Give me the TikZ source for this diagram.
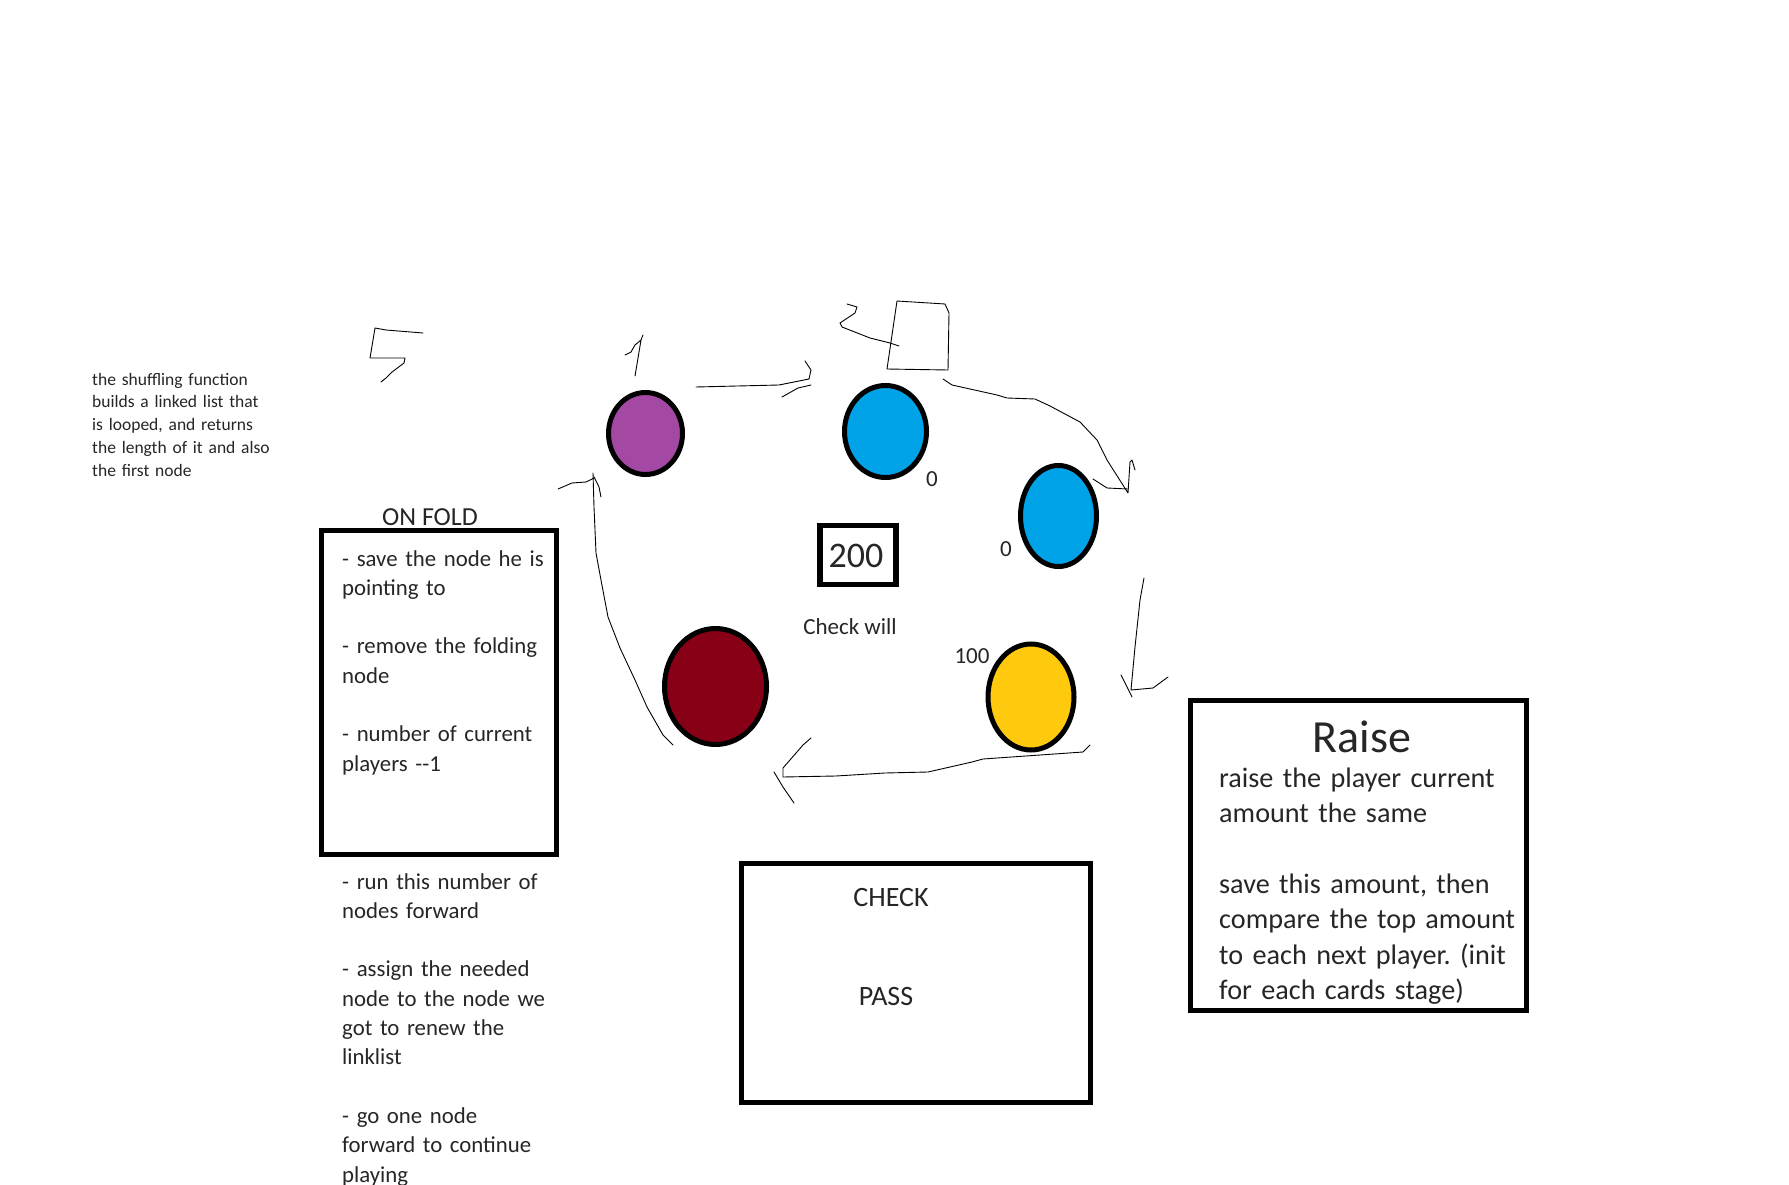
\documentclass[tikz,border=0pt]{standalone}
\usepackage{fontspec}
\setmainfont{Carlito}
\frenchspacing
\usetikzlibrary{shapes.geometric}
\definecolor{purp}{HTML}{A349A4}
\definecolor{turq}{HTML}{00A2E8}
\definecolor{amber}{HTML}{FFC90E}
\definecolor{wine}{HTML}{880015}
\definecolor{ink}{HTML}{262626}
\tikzset{
	player/.style={ellipse,draw=black,line width=5,inner sep=0},
	boxline/.style={draw=black,line width=5,inner sep=0},
	note/.style={inner sep=0,text=ink,align=left,text width=#1,anchor=base west},
	lbl/.style={inner sep=0,text=ink,anchor=base},
	pen/.style={line width=0.9,line join=round,line cap=round}
}
\begin{document}
\begin{tikzpicture}[x=1pt,y=-1pt]
	\useasboundingbox[fill=white](0,0) rectangle (1789,1185);
	% players of the looped list
	\foreach \name/\x/\y/\w/\h/\col in {p1/645.5/433.5/74/82/purp,p2/885.5/431.5/82/92/turq,p3/1058.5/516/76/101/turq,p4/1031/697/86/106/amber,p5/715.5/686.5/102/116/wine} {
		\node[player,fill=\col,minimum width=\w,minimum height=\h] (\name) at (\x,\y) {};
	}
	\foreach \name/\x/\y/\t in {b2/932/486/0,b3/1006/556/0,b4/972/663/100} {
		\node[lbl,font=\fontsize{23}{27}\selectfont] (\name) at (\x,\y) {\t};
	}
	\node[boxline,minimum width=76,minimum height=59,line width=5.5] (pot) at (858,555) {};
	\node[lbl,font=\fontsize{36}{42}\selectfont] (potval) at (856,567) {200};
	\node[lbl,font=\fontsize{23}{28}\selectfont] (chk) at (850,634) {Check will};
	% text on the left
	\node[note=300,font=\fontsize{17.5}{22.9}\selectfont] (shuffle) at (92,385) {the shuffling function\\builds a linked list that\\is looped, and returns\\the length of it and also\\the first node};
	\node[lbl,font=\fontsize{26}{31}\selectfont] (foldtitle) at (430,525) {ON FOLD};
	\node[boxline,minimum width=235,minimum height=324] (fold) at (439,692.5) {};
	\node[note=300,font=\fontsize{22.8}{29.3}\selectfont] (foldtext) at (342,566) {- save the node he is\\pointing to\\[29.3pt]- remove the folding\\node\\[29.3pt]- number of current\\players -{}-1};
	\node[note=300,font=\fontsize{22.8}{29.3}\selectfont] (foldmore) at (342,889) {- run this number of\\nodes forward\\[29.3pt]- assign the needed\\node to the node we\\got to renew the\\linklist\\[29.3pt]- go one node\\forward to continue\\playing};
	% check box
	\node[boxline,minimum width=349,minimum height=239] (check) at (915.5,982.5) {};
	\node[lbl,font=\fontsize{28}{33}\selectfont] (checkt) at (891,906) {CHECK};
	\node[lbl,font=\fontsize{28}{33}\selectfont] (pass) at (886,1005) {PASS};
	% raise box
	\node[boxline,minimum width=336,minimum height=310] (raise) at (1358,855) {};
	\node[lbl,font=\fontsize{46}{54}\selectfont] (raiset) at (1362,752) {Raise};
	\node[note=320,font=\fontsize{28.2}{35.4}\selectfont] (raisetext) at (1219,787) {raise the player current\\amount the same\\[35.4pt]save this amount, then\\compare the top amount\\to each next player. (init\\for each cards stage)};
	% hand drawn marks
	\draw[pen] (423,333) -- (386,330) -- (375,328) -- (370,358) -- (405,358) -- (404,363) -- (392,372) -- (386,378) -- (381,382);
	\draw[pen] (635,376) -- (641,340) -- (643,335) -- (641,340) -- (635,345) -- (631,352) -- (625,355);
	\draw[pen] (847,304) -- (857,307) -- (855,313) -- (840,323) -- (842,327) -- (870,338) -- (890,343) -- (899,346);
	\draw[pen] (897,301) -- (945,304) -- (949,313) -- (948,370) -- (887,369) -- cycle;
	% hand drawn arrows round the list
	\draw[pen] (696,387) -- (779,385) -- (809,379) -- (811,370) -- (805,361);
	\draw[pen] (811,385) -- (798,388) -- (782,397);
	\draw[pen] (943,379) -- (952,385) -- (997,395) -- (1007,398) -- (1035,399) -- (1050,406) -- (1080,422) -- (1097,440) -- (1107,460) -- (1128,493) -- (1130,462) -- (1132,460) -- (1135,470);
	\draw[pen] (1093,479) -- (1107,488) -- (1128,489);
	\draw[pen] (1144,578) -- (1140,600) -- (1135,647) -- (1131,690) -- (1153,688) -- (1168,677);
	\draw[pen] (1121,675) -- (1127,687) -- (1132,697);
	\draw[pen] (1090,745) -- (1083,752) -- (983,759) -- (972,762) -- (928,772) -- (885,773) -- (836,776) -- (783,777) -- (783,768) -- (803,745) -- (811,738);
	\draw[pen] (774,772) -- (783,787) -- (794,803);
	\draw[pen] (673,745) -- (663,735) -- (647,707) -- (635,680) -- (620,648) -- (608,617) -- (601,580) -- (596,553) -- (594,507) -- (593,473);
	\draw[pen] (558,489) -- (572,483) -- (586,482) -- (594,478);
	\draw[pen] (594,477) -- (599,487) -- (601,497);
\end{tikzpicture}
\end{document}
